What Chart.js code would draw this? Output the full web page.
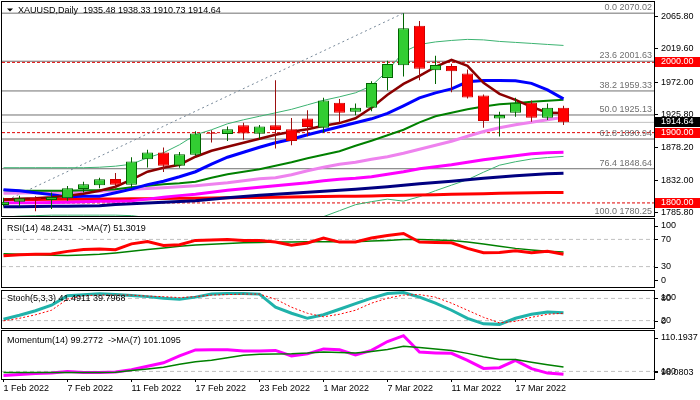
<!DOCTYPE html>
<html>
<head>
<meta charset="utf-8">
<script src="https://cdn.jsdelivr.net/npm/chart.js@4.4.1/dist/chart.umd.min.js"></script>
<style>
html, body { margin: 0; padding: 0; background: #fff; overflow: hidden; }
#wrap { position: relative; width: 700px; height: 400px; }
canvas { position: absolute; left: 0; }
</style>
</head>
<body>
<div id="wrap">
  <canvas id="cMain" width="700" height="218" style="top:0px"></canvas>
  <canvas id="cRsi" width="700" height="70" style="top:218px"></canvas>
  <canvas id="cStoch" width="700" height="41" style="top:288px"></canvas>
  <canvas id="cMom" width="700" height="71" style="top:329px"></canvas>
</div>
<script>
// XAUUSD daily, 1 Feb - 22 Mar 2022
const dates = ['1 Feb 2022', '2 Feb 2022', '3 Feb 2022', '4 Feb 2022', '7 Feb 2022', '8 Feb 2022', '9 Feb 2022', '10 Feb 2022',
  '11 Feb 2022', '14 Feb 2022', '15 Feb 2022', '16 Feb 2022', '17 Feb 2022', '18 Feb 2022', '21 Feb 2022', '22 Feb 2022',
  '23 Feb 2022', '24 Feb 2022', '25 Feb 2022', '28 Feb 2022', '1 Mar 2022', '2 Mar 2022', '3 Mar 2022', '4 Mar 2022',
  '7 Mar 2022', '8 Mar 2022', '9 Mar 2022', '10 Mar 2022', '11 Mar 2022', '14 Mar 2022', '15 Mar 2022', '16 Mar 2022',
  '17 Mar 2022', '18 Mar 2022', '21 Mar 2022', '22 Mar 2022'];
const tickIndex = [0, 4, 8, 12, 16, 20, 24, 28, 32];

const openP = [1797.0, 1801.8, 1807.0, 1804.3, 1806.7, 1819.8, 1825.0, 1834.0, 1826.0, 1862.0, 1871.8, 1852.8,
  1868.4, 1899.4, 1898.0, 1910.4, 1898.6, 1910.4, 1904.7, 1920.0, 1907.0, 1942.5, 1929.8, 1935.5,
  1977.9, 1995.8, 2052.0, 1988.7, 1995.0, 1984.0, 1952.9, 1920.0, 1928.4, 1942.5, 1921.3, 1935.48];
const highP = [1807.5, 1810.3, 1809.5, 1815.0, 1824.0, 1830.0, 1835.8, 1842.5, 1865.0, 1875.5, 1879.0, 1872.6,
  1902.0, 1903.3, 1908.6, 1914.0, 1911.0, 1974.5, 1921.0, 1932.0, 1949.6, 1948.0, 1941.5, 1973.0,
  2002.4, 2070.02, 2059.0, 2009.5, 1998.0, 1989.7, 1954.3, 1929.8, 1949.6, 1945.8, 1941.5, 1938.33];
const lowP = [1795.0, 1794.8, 1788.0, 1791.5, 1803.0, 1815.0, 1821.0, 1820.0, 1821.0, 1850.5, 1844.0, 1850.0,
  1867.0, 1886.0, 1888.0, 1890.0, 1891.0, 1877.4, 1882.0, 1895.0, 1900.0, 1914.0, 1924.6, 1930.6,
  1960.4, 1980.0, 1974.5, 1969.4, 1957.5, 1948.6, 1907.0, 1894.4, 1922.7, 1915.6, 1918.0, 1910.73];
const closeP = [1801.8, 1806.6, 1804.5, 1808.5, 1820.8, 1826.5, 1833.6, 1826.0, 1859.0, 1871.8, 1852.8, 1869.4,
  1898.7, 1898.4, 1904.7, 1898.7, 1908.6, 1903.8, 1888.2, 1908.0, 1945.8, 1928.4, 1935.5, 1970.8,
  1997.7, 2048.7, 1991.0, 1996.3, 1987.3, 1950.0, 1916.5, 1925.0, 1942.5, 1921.3, 1935.5, 1914.64];

// moving averages on the price window
const maMaroon = [1804.7, 1806.1, 1806.8, 1808.2, 1810.3, 1813.2, 1817.4, 1823.1, 1833.0, 1844.4, 1850.1, 1854.4,
  1865.7, 1874.3, 1879.9, 1885.6, 1891.3, 1897.0, 1901.2, 1904.8, 1909.8, 1913.6, 1920.4, 1935.3,
  1953.8, 1969.4, 1980.8, 1993.6, 2003.5, 1995.0, 1970.8, 1955.2, 1946.7, 1936.8, 1928.2, 1927.8];
const maBlue = [1818.9, 1817.4, 1814.6, 1811.8, 1808.9, 1809.6, 1809.6, 1814.6, 1819.6, 1826.0, 1830.9, 1837.3,
  1844.4, 1855.1, 1865.0, 1872.1, 1879.2, 1885.6, 1890.6, 1897.0, 1902.7, 1908.3, 1914.0, 1919.7,
  1927.5, 1938.2, 1949.5, 1956.6, 1962.3, 1972.3, 1974.1, 1974.1, 1973.7, 1970.1, 1960.9, 1948.1];
const maGreen = [1818.1, 1817.4, 1817.4, 1817.4, 1817.4, 1818.1, 1818.1, 1819.6, 1822.4, 1824.6, 1826.7, 1828.1,
  1830.2, 1835.9, 1840.9, 1844.4, 1848.0, 1853.0, 1858.0, 1863.6, 1868.6, 1873.5, 1881.4, 1888.5,
  1896.3, 1904.1, 1914.7, 1923.3, 1928.2, 1933.2, 1937.2, 1940.3, 1942.0, 1943.9, 1945.3, 1946.7];
const maViolet = [1813.9, 1814.2, 1814.6, 1814.9, 1815.3, 1816.0, 1816.7, 1818.2, 1819.6, 1820.6, 1821.7, 1823.1,
  1824.6, 1826.7, 1828.8, 1831.7, 1834.5, 1835.9, 1840.2, 1845.9, 1850.8, 1855.1, 1857.9, 1862.2,
  1865.7, 1870.7, 1876.4, 1882.1, 1887.8, 1894.9, 1901.7, 1906.9, 1911.2, 1914.7, 1918.3, 1921.9];
const maMagenta = [1800.4, 1800.4, 1800.4, 1800.7, 1801.1, 1801.8, 1802.3, 1802.5, 1803.2, 1805.4, 1808.2, 1810.4,
  1812.5, 1815.3, 1818.2, 1820.3, 1822.4, 1824.6, 1826.7, 1828.8, 1831.7, 1833.8, 1835.2, 1837.3,
  1840.9, 1844.4, 1848.7, 1851.5, 1854.4, 1857.9, 1861.5, 1864.3, 1867.2, 1870.0, 1871.4, 1872.1];
const maNavy = [1794.7, 1794.7, 1795.0, 1795.3, 1795.4, 1795.7, 1796.1, 1797.6, 1799.0, 1800.0, 1801.1, 1802.1,
  1803.2, 1805.4, 1807.5, 1809.2, 1811.0, 1812.5, 1813.9, 1815.3, 1816.7, 1818.2, 1819.6, 1821.3,
  1823.1, 1825.3, 1827.4, 1829.1, 1830.9, 1833.1, 1835.2, 1836.9, 1838.8, 1840.2, 1841.6, 1842.3];
const maRed = [1804.7, 1804.7, 1805.0, 1805.1, 1805.2, 1805.4, 1805.5, 1805.7, 1806.0, 1806.1, 1806.4, 1806.5,
  1806.8, 1807.1, 1807.4, 1807.6, 1807.9, 1808.2, 1808.5, 1808.9, 1809.2, 1809.5, 1809.6, 1810.0,
  1810.5, 1810.9, 1811.3, 1811.8, 1812.3, 1812.8, 1813.2, 1813.6, 1814.0, 1814.5, 1814.8, 1815.0];
const bandUpper = [1850.1, 1850.1, 1850.1, 1850.1, 1850.1, 1850.1, 1850.8, 1852.3, 1855.1, 1864.3, 1871.4, 1882.8,
  1897.0, 1904.1, 1912.6, 1918.3, 1923.3, 1928.2, 1933.2, 1939.6, 1946.0, 1951.0, 1956.7, 1966.6,
  1987.9, 2014.9, 2025.5, 2029.1, 2031.2, 2032.7, 2032.0, 2029.8, 2028.4, 2027.0, 2025.5, 2024.1];
const bandLower = [1779.8, 1781.2, 1781.9, 1782.6, 1782.6, 1782.6, 1782.6, 1782.6, 1781.9, 1779.1, 1776.2, 1773.4,
  1770.6, 1769.2, 1769.2, 1770.6, 1772.0, 1773.4, 1776.2, 1777.7, 1780.5, 1789.0, 1797.5, 1801.8,
  1805.4, 1802.5, 1808.9, 1817.4, 1825.3, 1833.1, 1843.7, 1853.7, 1858.6, 1862.5, 1864.6, 1866.2];

// fibonacci retracement drawn from the 28 Jan low to the 8 Mar high
const fibRatio = [0.0, 23.6, 38.2, 50.0, 61.8, 76.4, 100.0];
const fibValues = [2070.02, 2001.63, 1959.33, 1925.13, 1890.94, 1848.64, 1780.25];
const fibAnchorIdx = [-2, 25];
const roundLevels = [2000, 1900, 1800];
const priceTicks = [1785.80, 1832.00, 1878.20, 1925.80, 1972.00, 2019.60, 2065.80];

// oscillators
const rsi = [45.8, 47.3, 48.0, 48.7, 52.4, 55.3, 56.0, 54.9, 63.4, 67.0, 61.2, 62.2,
  68.5, 69.2, 70.0, 68.5, 68.5, 66.3, 61.6, 64.8, 72.1, 66.0, 66.3, 72.1,
  75.8, 78.7, 66.0, 65.6, 65.1, 56.8, 50.5, 50.9, 53.4, 50.5, 52.4, 48.2431];
const rsiMa = [49.0, 48.0, 47.3, 46.8, 46.5, 47.0, 48.0, 50.0, 52.4, 55.0, 57.5, 59.8,
  61.9, 63.0, 64.1, 65.0, 65.6, 66.0, 66.3, 66.4, 66.6, 66.6, 66.6, 67.5,
  68.5, 70.0, 70.0, 69.3, 68.5, 66.0, 63.4, 60.0, 56.8, 54.5, 52.4, 51.3019];
const rsiLevels = [70, 30];
const stochK = [23.5, 34.4, 46.6, 61.6, 87.0, 89.7, 92.4, 90.3, 88.1, 84.8, 80.7, 78.0,
  83.4, 91.6, 93.5, 93.0, 91.6, 56.2, 39.8, 26.2, 35.7, 50.7, 65.7, 80.7,
  93.0, 95.7, 83.4, 67.1, 48.0, 26.2, 11.2, 9.8, 26.2, 37.1, 43.4, 41.4911];
const stochD = [19.4, 26.2, 35.7, 48.0, 78.0, 87.5, 88.9, 88.9, 88.9, 86.2, 84.8, 82.1,
  84.8, 88.9, 90.3, 91.6, 91.6, 78.0, 56.2, 39.8, 30.3, 37.1, 48.0, 67.1,
  80.7, 88.9, 90.3, 83.4, 67.1, 48.0, 28.9, 13.9, 18.0, 28.9, 37.1, 39.7968];
const stochLevels = [80, 20];
const mom = [98.95, 99.2, 99.45, 99.57, 99.95, 99.7, 99.7, 99.82, 100.44, 101.31, 102.18, 103.92,
  105.42, 105.47, 105.47, 105.17, 105.17, 105.29, 103.92, 104.42, 105.67, 105.47, 104.17, 105.29,
  107.53, 109.02, 104.87, 104.67, 104.55, 102.8, 100.74, 100.94, 102.8, 100.69, 99.57, 99.2772];
const momMa = [99.75, 99.75, 99.75, 99.75, 99.75, 99.75, 99.75, 99.8, 100.2, 100.6, 101.06, 101.81,
  102.43, 102.8, 103.43, 104.05, 104.3, 104.42, 104.47, 104.62, 104.87, 104.79, 104.62, 105.04,
  105.54, 106.36, 106.04, 105.67, 105.29, 104.55, 103.68, 102.98, 102.98, 102.31, 101.69, 101.1095];
const momMin = 98.0803, momMax = 110.1937, momLevel = 100;

const FONT = '"Liberation Sans", Arial, sans-serif';
Chart.defaults.font.family = FONT;
Chart.defaults.font.size = 9;
Chart.defaults.color = '#000';

// 16px per bar, bar 0 centred at x=3.5
const X_MIN = -0.09375, X_MAX = 40.65625;
const last = closeP.length - 1;

function hline(v, color, dash) {
  return { type: 'line', data: [{ x: X_MIN, y: v }, { x: X_MAX, y: v }], borderColor: color, borderWidth: 1, borderDash: dash || [] };
}
function series(values, color, width, dash) {
  return { type: 'line', data: values.map((v, i) => ({ x: i, y: v })), borderColor: color, borderWidth: width, borderDash: dash || [] };
}

function xScale(show) {
  const s = { type: 'linear', min: X_MIN, max: X_MAX, offset: false, display: show };
  if (show) {
    Object.assign(s, {
      position: 'bottom',
      afterBuildTicks: sc => { sc.ticks = tickIndex.map(v => ({ value: v })); },
      afterFit: sc => { sc.height = 21; sc.paddingLeft = 0; sc.paddingRight = 0; },
      grid: { drawOnChartArea: false, drawTicks: true, tickLength: 3, tickColor: '#000' },
      border: { display: false },
      ticks: { autoSkip: false, maxRotation: 0, align: 'start', padding: 1, color: '#000', callback: v => dates[v] }
    });
  }
  return s;
}

function yScale(min, max, ticks) {
  const s = {
    position: 'right', min: min, max: max, beginAtZero: false, grace: 0,
    afterFit: sc => { sc.width = 46; sc.paddingTop = 0; sc.paddingBottom = 0; },
    grid: { drawOnChartArea: false, drawTicks: !!ticks, tickLength: 4, tickColor: '#000' },
    border: { display: false },
    ticks: { display: !!ticks, autoSkip: false, padding: 3, color: '#000', callback: v => v.toFixed(2) }
  };
  if (ticks) s.afterBuildTicks = sc => { sc.ticks = ticks.map(v => ({ value: v })); };
  return s;
}

// frame, captions and the MT4-style labels on the right edge
function makeDecor(cfg) {
  return {
    id: 'mtDecor',
    afterDraw(chart) {
      const { ctx, chartArea: a } = chart;
      const ys = chart.scales.y;
      ctx.save();
      ctx.font = '9px ' + FONT;

      ctx.fillStyle = '#6e6e6e';
      ctx.textAlign = 'right';
      ctx.textBaseline = 'alphabetic';
      (cfg.fibs || []).forEach(f => {
        ctx.fillText(f.text, a.right - 2, Math.round(ys.getPixelForValue(f.value)) - 3);
      });

      ctx.strokeStyle = '#000';
      ctx.lineWidth = 1;
      ctx.strokeRect(a.left - 0.5, a.top - 0.5, a.right - a.left + 1, a.bottom - a.top + 1);

      ctx.textAlign = 'left';
      ctx.textBaseline = 'middle';
      ctx.fillStyle = '#000';
      (cfg.side || []).forEach(s => {
        let py = ys.getPixelForValue(s.value);
        py = Math.min(Math.max(py, a.top + 6.5), a.bottom - 6.7);
        ctx.fillText(s.text, a.right + 7, py);
        ctx.beginPath();
        ctx.moveTo(a.right, Math.round(py) + 0.5);
        ctx.lineTo(a.right + 4, Math.round(py) + 0.5);
        ctx.stroke();
      });

      (cfg.boxes || []).forEach(b => {
        const py = Math.round(ys.getPixelForValue(b.value));
        ctx.fillStyle = b.bg;
        ctx.fillRect(a.right + 1, py - 5, chart.width - a.right - 1, 10);
        ctx.fillStyle = '#fff';
        ctx.fillText(b.text, a.right + 7, py);
      });

      if (cfg.title) {
        const ty = a.top + cfg.titleDy;
        let tx = a.left + 5;
        ctx.fillStyle = '#000';
        if (cfg.arrow) {
          ctx.beginPath();
          ctx.moveTo(7, ty - 2);
          ctx.lineTo(13, ty - 2);
          ctx.lineTo(10, ty + 1);
          ctx.closePath();
          ctx.fill();
          tx = 18;
        }
        ctx.fillText(cfg.title, tx, ty);
      }
      ctx.restore();
    }
  };
}

function makeChart(id, datasets, scales, decor, padding) {
  // first in the list is drawn first
  datasets.forEach((d, k) => { d.order = datasets.length - k; d.clip = 0; });
  return new Chart(document.getElementById(id), {
    type: 'line',
    data: { datasets: datasets },
    options: {
      responsive: false,
      animation: false,
      events: [],
      layout: { padding: padding },
      plugins: { legend: { display: false }, tooltip: { enabled: false } },
      elements: { point: { radius: 0 }, line: { tension: 0 } },
      scales: scales
    },
    plugins: [makeDecor(decor)]
  });
}

// ---- price window ----
const bull = closeP.map((c, i) => c >= openP[i]);
const wicks = {
  type: 'bar', data: lowP.map((l, i) => ({ x: i, y: [l, highP[i]] })),
  backgroundColor: bull.map(b => b ? '#006400' : '#9b1010'), borderWidth: 0,
  barThickness: 1, grouped: false, inflateAmount: 0
};
const bodies = {
  type: 'bar', data: closeP.map((c, i) => ({ x: i, y: [openP[i], c] })),
  backgroundColor: bull.map(b => b ? '#32cd32' : '#ff0000'),
  borderColor: bull.map(b => b ? '#006400' : '#d00000'), borderWidth: 1, borderSkipped: false,
  barThickness: 11, grouped: false, inflateAmount: 0
};

const mainSets = [
  ...fibValues.map(v => hline(v, '#707070')),
  ...roundLevels.map(v => hline(v, '#e00000', [3, 2])),
  hline(closeP[last], '#c0c0c0'),
  { type: 'line', data: [{ x: fibAnchorIdx[0], y: fibValues[6] }, { x: fibAnchorIdx[1], y: fibValues[0] }],
    borderColor: '#778899', borderWidth: 1, borderDash: [2, 3] },
  series(bandUpper, '#3cb371', 1), series(bandLower, '#3cb371', 1),
  series(maRed, '#ff0000', 3), series(maNavy, '#000080', 3), series(maMagenta, '#ff00ff', 3),
  series(maViolet, '#ee82ee', 3), series(maGreen, '#008000', 2), series(maBlue, '#0000ff', 3),
  series(maMaroon, '#8b0000', 2.5),
  wicks, bodies
];

makeChart('cMain', mainSets, { x: xScale(false), y: yScale(1781.4, 2085.9, priceTicks) }, {
  title: 'XAUUSD,Daily  ' + [openP[last], highP[last], lowP[last], closeP[last]].map(v => v.toFixed(2)).join(' '),
  titleDy: 8.5, arrow: true,
  fibs: fibValues.map((v, i) => ({ value: v, text: fibRatio[i].toFixed(1) + ' ' + v.toFixed(2) })),
  boxes: [
    ...roundLevels.map(v => ({ value: v, text: v.toFixed(2), bg: '#ff0000' })),
    { value: closeP[last], text: closeP[last].toFixed(2), bg: '#000' }
  ]
}, { left: 2, right: 0, top: 2, bottom: 2 });

// ---- RSI ----
makeChart('cRsi', [
  ...rsiLevels.map(v => hline(v, '#c0c0c0', [4, 3])),
  series(rsiMa, '#008000', 1.5),
  series(rsi, '#ff0000', 3)
], { x: xScale(false), y: yScale(0, 100) }, {
  title: 'RSI(14) ' + rsi[last].toFixed(4) + '  ->MA(7) ' + rsiMa[last].toFixed(4), titleDy: 10,
  side: [100, 70, 30, 0].map(v => ({ value: v, text: String(v) }))
}, { left: 2, right: 0, top: 1, bottom: 1 });

// ---- Stochastic ----
makeChart('cStoch', [
  ...stochLevels.map(v => hline(v, '#c0c0c0', [4, 3])),
  series(stochK, '#20b2aa', 3),
  series(stochD, '#ff0000', 1, [2, 2])
], { x: xScale(false), y: yScale(0, 100) }, {
  title: 'Stoch(5,3,3) ' + stochK[last].toFixed(4) + ' ' + stochD[last].toFixed(4), titleDy: 7.5,
  side: [100, 80, 20, 0].map(v => ({ value: v, text: String(v) }))
}, { left: 2, right: 0, top: 3, bottom: 1 });

// ---- Momentum ----
makeChart('cMom', [
  hline(momLevel, '#c0c0c0', [4, 3]),
  series(mom, '#ff00ff', 3),
  series(momMa, '#008000', 1.5)
], { x: xScale(true), y: yScale(momMin, momMax) }, {
  title: 'Momentum(14) ' + mom[last].toFixed(4) + '  ->MA(7) ' + momMa[last].toFixed(4), titleDy: 9.5,
  side: [
    { value: momMax, text: momMax.toFixed(4) },
    { value: momLevel, text: String(momLevel) },
    { value: momMin, text: momMin.toFixed(4) }
  ]
}, { left: 2, right: 0, top: 2, bottom: 0 });
</script>
</body>
</html>
